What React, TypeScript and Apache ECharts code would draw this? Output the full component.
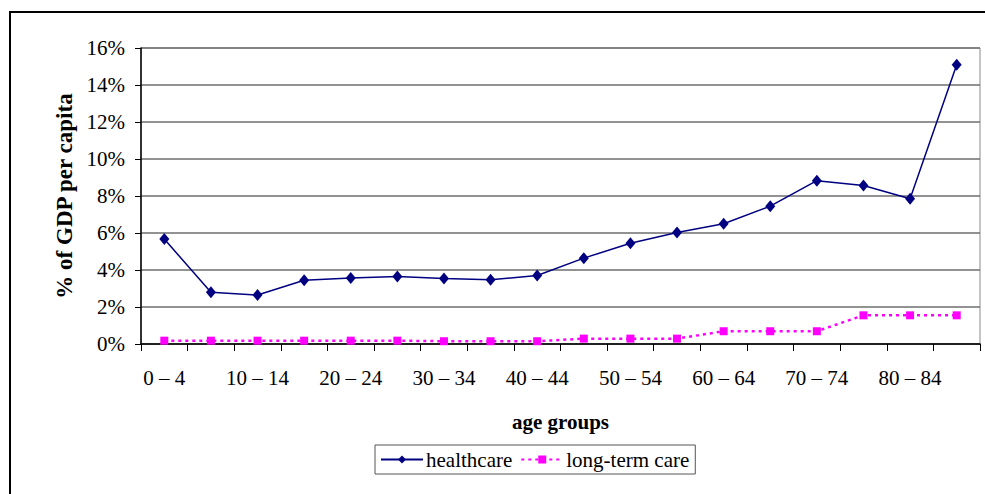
import React, { useEffect, useRef } from "react";
import * as echarts from "echarts";

// Age groups (five-year bands) on the category axis
const ageGroups = [
  "0 – 4", "5 – 9", "10 – 14", "15 – 19", "20 – 24", "25 – 29",
  "30 – 34", "35 – 39", "40 – 44", "45 – 49", "50 – 54", "55 – 59",
  "60 – 64", "65 – 69", "70 – 74", "75 – 79", "80 – 84", "85+",
];

// Spending per person, as % of GDP per capita
const healthcare = [
  5.67, 2.8, 2.65, 3.45, 3.57, 3.65, 3.54, 3.47, 3.7,
  4.64, 5.45, 6.03, 6.5, 7.45, 8.83, 8.57, 7.85, 15.09,
];
const longTermCare = [
  0.18, 0.18, 0.18, 0.18, 0.18, 0.18, 0.15, 0.15, 0.15,
  0.29, 0.29, 0.29, 0.69, 0.69, 0.69, 1.55, 1.55, 1.55,
];

const yTicks = { min: 0, max: 16, interval: 2 };

const FONT = '"Liberation Serif", "Times New Roman", serif';

export default function App() {
  const ref = useRef<HTMLDivElement>(null);

  useEffect(() => {
    if (!ref.current) return;
    const chart = echarts.init(ref.current, undefined, { renderer: "svg" });
    chart.setOption({
      animation: false,
      backgroundColor: "#ffffff",
      textStyle: { fontFamily: FONT, color: "#000" },
      graphic: [
        {
          type: "rect",
          shape: { x: 10, y: 12, width: 990, height: 500 },
          style: { fill: "none", stroke: "#000", lineWidth: 2 },
          silent: true,
        },
      ],
      grid: {
        left: 141,
        right: 5,
        top: 48,
        bottom: 150,
        show: true,
        borderColor: "#8a8a8a",
        borderWidth: 1,
      },
      legend: {
        left: 375,
        top: 445,
        padding: [4, 6, 4, 5],
        itemGap: 8,
        itemWidth: 42,
        itemHeight: 10,
        borderColor: "#555",
        borderWidth: 1,
        textStyle: { fontFamily: FONT, fontSize: 21, color: "#000", padding: [0, 0, 0, -2] },
        data: ["healthcare", "long-term care"],
      },
      xAxis: {
        type: "category",
        data: ageGroups,
        boundaryGap: true,
        name: "age groups",
        nameLocation: "middle",
        nameGap: 67,
        nameTextStyle: { fontFamily: FONT, fontSize: 21, fontWeight: "bold", color: "#000" },
        axisLine: { lineStyle: { color: "#000", width: 1.5 } },
        axisTick: { show: true, alignWithLabel: false, interval: 0, length: 7, lineStyle: { color: "#000" } },
        axisLabel: { interval: 1, margin: 23, fontFamily: FONT, fontSize: 21, color: "#000" },
        splitLine: { show: false },
      },
      yAxis: {
        type: "value",
        min: yTicks.min,
        max: yTicks.max,
        interval: yTicks.interval,
        name: "% of GDP per capita",
        nameLocation: "middle",
        nameGap: 58,
        nameTextStyle: { fontFamily: FONT, fontSize: 23, fontWeight: "bold", color: "#000" },
        axisLine: { show: true, lineStyle: { color: "#000", width: 1.5 } },
        axisTick: { show: true, length: 6, lineStyle: { color: "#000" } },
        axisLabel: {
          margin: 16,
          fontFamily: FONT,
          fontSize: 21,
          color: "#000",
          formatter: (v: number) => `${v}%`,
        },
        splitLine: { show: true, lineStyle: { color: "#6e6e6e", width: 1.5 } },
      },
      series: [
        {
          name: "healthcare",
          type: "line",
          data: healthcare,
          symbol: "diamond",
          symbolSize: [10, 12],
          color: "#000080",
          lineStyle: { color: "#000080", width: 1.5 },
          itemStyle: { color: "#000080" },
          z: 3,
        },
        {
          name: "long-term care",
          type: "line",
          data: longTermCare,
          symbol: "rect",
          symbolSize: 8,
          color: "#ff00ff",
          lineStyle: { color: "#ff00ff", width: 2.5, type: [3, 4] },
          itemStyle: { color: "#ff00ff" },
          z: 2,
        },
      ],
    });
    return () => chart.dispose();
  }, []);

  return (
    <div
      ref={ref}
      style={{ position: "fixed", left: 0, top: 0, width: 985, height: 494, background: "#fff" }}
    />
  );
}
